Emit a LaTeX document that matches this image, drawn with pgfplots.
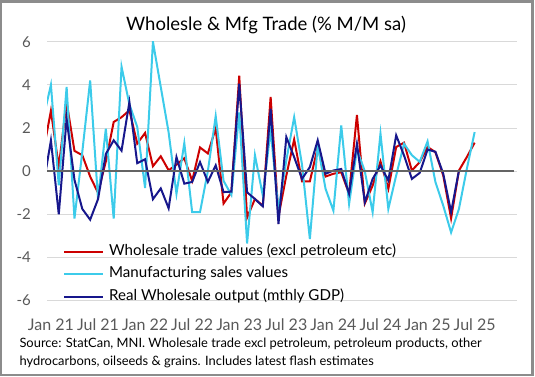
\documentclass[border=0pt]{standalone}
\usepackage{pgfplots}
\pgfplotsset{compat=1.18}
\usepackage{fontspec}
\setmainfont{Lato}
\definecolor{wred}{HTML}{CC0000}
\definecolor{wcyan}{HTML}{3CCBEA}
\definecolor{wnavy}{HTML}{17178C}
\definecolor{gridgray}{HTML}{D9D9D9}
\definecolor{zerogray}{HTML}{646464}
\definecolor{labgray}{HTML}{595959}
\definecolor{bordergray}{HTML}{8C8C8C}

\pgfplotstableread{
x y
-1 0.84
0 2.80
1 0.20
2 3.20
3 0.94
4 0.74
5 -0.25
6 -1.00
7 0.45
8 2.28
9 2.50
10 2.82
11 1.28
12 1.77
13 0.23
14 0.69
15 0.04
16 0.30
17 0.60
18 -0.45
19 1.10
20 0.82
21 1.98
22 -1.50
23 -0.98
24 4.42
25 -2.15
26 -1.29
27 -1.60
28 3.44
29 -2.10
30 -0.20
31 1.47
32 -0.47
33 -0.47
34 1.10
35 -0.25
36 -0.12
37 -0.05
38 -1.05
39 2.60
40 -1.50
41 -0.67
42 0.45
43 -0.82
44 1.12
45 1.32
46 0.03
47 0.42
48 1.12
49 0.88
50 -0.20
51 -2.19
52 0.03
53 0.65
54 1.32
}\wholesale

\pgfplotstableread{
x y
-1 2.4
0 4.0
1 -0.66
2 3.9
3 -2.2
4 0.9
5 4.2
6 -1.29
7 1.97
8 -2.2
9 4.84
10 3.1
11 2.05
12 -0.78
13 6.0
14 3.9
15 1.8
16 -1.05
17 1.3
18 -1.9
19 -1.9
20 0.0
21 2.55
22 -0.45
23 -1.1
24 2.72
25 -3.35
26 0.74
27 -1.13
28 1.9
29 -1.8
30 0.5
31 2.5
32 0.3
33 -3.15
34 1.2
35 -0.82
36 -1.83
37 2.12
38 -1.52
39 1.0
40 0.0
41 -1.9
42 1.74
43 -1.75
44 -0.2
45 1.27
46 0.74
47 0.43
48 1.38
49 -0.5
50 -1.6
51 -2.84
52 -1.75
53 0.1
54 1.81
}\mfg

\pgfplotstableread{
x y
-1 -0.75
0 1.43
1 -2.0
2 2.43
3 -0.4
4 -1.75
5 -2.25
6 -1.3
7 0.8
8 1.43
9 0.95
10 3.2
11 0.37
12 0.55
13 -1.3
14 -0.8
15 -1.72
16 0.65
17 -0.58
18 -0.5
19 0.42
20 -0.5
21 0.27
22 -0.97
23 -0.95
24 4.05
25 -0.98
26 -1.29
27 -1.63
28 2.89
29 -2.45
30 1.58
31 0.65
32 -0.36
33 0.19
34 1.43
35 -0.12
36 0.03
37 0.1
38 -1.05
39 1.27
40 -1.44
41 -0.36
42 0.26
43 -0.43
44 1.66
45 0.73
46 -0.36
47 -0.08
48 1.0
49 0.9
50 -0.12
51 -1.9
52 0.03
}\gdp

\begin{document}
\begin{tikzpicture}[x=1bp,y=1bp]
\begin{axis}[
  scale only axis, width=470bp, height=258.9bp,
  xmin=-0.5, xmax=59.4, ymin=-6, ymax=6,
  ytick={-6,-4,-2,0,2,4,6},
  yticklabels={-6,-4,-2,0,2,4,6},
  xtick={0,6,12,18,24,30,36,42,48,54},
  xticklabels={Jan 21,Jul 21,Jan 22,Jul 22,Jan 23,Jul 23,Jan 24,Jul 24,Jan 25,Jul 25},
  axis line style={draw=none},
  major tick length=0pt,
  ymajorgrids, xmajorgrids=false,
  grid style={color=gridgray, line width=1bp},
  yticklabel style={font=\fontsize{15bp}{18bp}\selectfont, color=labgray, anchor=east, inner sep=0pt, xshift=-16bp},
  xticklabel style={font=\fontsize{16bp}{18bp}\selectfont, color=labgray, anchor=base, inner sep=0pt, yshift=-30bp},
  legend style={draw=none, fill=none, at={(0.034,0.214)}, anchor=north west,
    inner sep=0pt, row sep=9.5bp,
    nodes={inner sep=0pt, text height=10bp, text depth=3bp},
    font=\fontsize{15.1bp}{17bp}\selectfont,
    /tikz/every odd column/.append style={column sep=5bp}},
  legend cell align=left,
  legend image code/.code={\draw[#1] (0bp,0bp) -- (39bp,0bp);},
]
\addplot[color=wred, line width=2bp] table[x=x,y=y] {\wholesale};
\addlegendentry{Wholesale trade values (excl petroleum etc)}
\addplot[color=wcyan, line width=2bp] table[x=x,y=y] {\mfg};
\addlegendentry{Manufacturing sales values}
\addplot[color=wnavy, line width=2bp] table[x=x,y=y] {\gdp};
\addlegendentry{Real Wholesale output (mthly GDP)}
\draw[color=zerogray, line width=2.2bp] (axis cs:-0.5,0) -- (axis cs:59.0,0);
\coordinate (O) at (rel axis cs:0,0);
\end{axis}
\begin{scope}[shift={(O)}]
\begin{scope}[shift={(-47,-75.4)}]
\node[anchor=base, font=\fontsize{18.5bp}{20bp}\selectfont] at (266,346) {Wholesle \& Mfg Trade (\% M/M sa)};
\node[anchor=base west, font=\fontsize{12.9bp}{16bp}\selectfont] at (16,29) {Source: StatCan, MNI. Wholesale trade excl petroleum, petroleum products, other};
\node[anchor=base west, font=\fontsize{12.9bp}{16bp}\selectfont] at (16,11) {hydrocarbons, oilseeds \& grains. Includes latest flash estimates};
\draw[color=bordergray, line width=2.5bp] (1.25,1.25) rectangle (532.5,374.75);
\pgfresetboundingbox
\path[use as bounding box] (0,0) rectangle (535,376);
\end{scope}
\end{scope}
\end{tikzpicture}
\end{document}
